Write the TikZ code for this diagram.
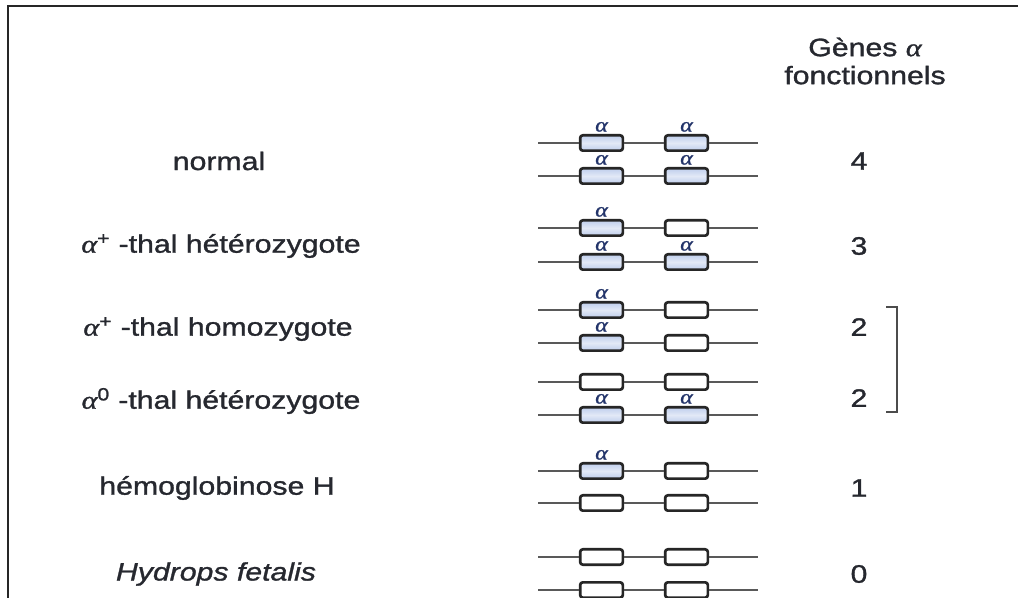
\documentclass[tikz,border=0pt]{standalone}
\usepackage{fontspec}
\setmainfont[FakeStretch=1.2,FakeBold=1.2]{Liberation Sans}
\newfontfamily\alfont[FakeStretch=1.2,FakeBold=1.2,ItalicFont={* Italic}]{Liberation Serif}
\newcommand\al{{\alfont\itshape α}}
\definecolor{txt}{HTML}{26282F}
\definecolor{genefill}{HTML}{BFCEEC}
\definecolor{alab}{HTML}{23346A}
\tikzset{
  gene/.style={draw=black!85, line width=2pt, rounded corners=2pt,
    minimum width=32pt, minimum height=11.5pt, inner sep=0pt, fill=white},
  on/.style={gene, top color=genefill, bottom color=genefill, middle color=genefill!45,
    label={[font=\fontsize{15}{15}\selectfont, text=alab, inner sep=0pt, anchor=south, label distance=1.5pt]above:\al}},
  off/.style={gene},
  chrom/.style={draw=black!65, line width=1.5pt},
  lbl/.style={font=\fontsize{18.9}{22}\selectfont, text=txt, inner sep=0pt},
  frame/.style={draw=black!85, line width=2pt},
  brk/.style={draw=black!70, line width=1.6pt}
}
\newcommand\chromo[4]{%
  \coordinate (#1L) at (538,#2);
  \coordinate (#1R) at (758,#2);
  \node[#3] (#1A) at (601.5,#2) {};
  \node[#4] (#1B) at (686.5,#2) {};
  \draw[chrom] (#1L) -- (#1A.west) (#1A.east) -- (#1B.west) (#1B.east) -- (#1R);
}
\begin{document}
\begin{tikzpicture}[x=0.75pt,y=-0.75pt]
\useasboundingbox (0,0) rectangle (1018,598);
\fill[white] (0,0) rectangle (1018,598);
\coordinate (fbl) at (8,598);
\coordinate (ftl) at (8,6);
\coordinate (ftr) at (1018,6);
\draw[frame] (fbl) -- (ftl) -- (ftr);

% header
\node[lbl, align=center] (head) at (865,61) {Gènes \al\\[-1pt]fonctionnels};

% rows
\chromo{ra}{143}{on}{on}
\chromo{rb}{176}{on}{on}
\chromo{rc}{228}{on}{off}
\chromo{rd}{262}{on}{on}
\chromo{re}{310}{on}{off}
\chromo{rf}{343}{on}{off}
\chromo{rg}{382}{off}{off}
\chromo{rh}{415}{on}{on}
\chromo{ri}{471}{on}{off}
\chromo{rj}{503}{off}{off}
\chromo{rk}{557}{off}{off}
\chromo{rl}{590}{off}{off}

% labels
\node[lbl] (l1) at (219,161) {normal};
\node[lbl] (l2) at (221,246) {\al\textsuperscript{+} -thal hétérozygote};
\node[lbl] (l3) at (218,329) {\al\textsuperscript{+} -thal homozygote};
\node[lbl] (l4) at (221,401) {\al\textsuperscript{0} -thal hétérozygote};
\node[lbl] (l5) at (217,488) {hémoglobinose H};
\node[lbl] (l6) at (216,574) {\itshape Hydrops fetalis};

% numbers
\node[lbl] (n1) at (859,161) {4};
\node[lbl] (n2) at (859,246) {3};
\node[lbl] (n3) at (859,327) {2};
\node[lbl] (n4) at (859,398) {2};
\node[lbl] (n5) at (859,488) {1};
\node[lbl] (n6) at (859,574) {0};

% bracket
\coordinate (b1) at (886,307);
\coordinate (b2) at (897,307);
\coordinate (b3) at (897,412);
\coordinate (b4) at (886,412);
\draw[brk] (b1) -- (b2) -- (b3) -- (b4);
\end{tikzpicture}
\end{document}
